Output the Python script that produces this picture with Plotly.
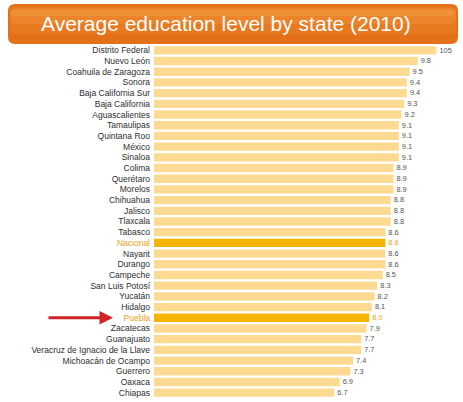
import plotly.graph_objects as go

states = ["Distrito Federal", "Nuevo León", "Coahuila de Zaragoza", "Sonora",
          "Baja California Sur", "Baja California", "Aguascalientes", "Tamaulipas",
          "Quintana Roo", "México", "Sinaloa", "Colima", "Querétaro", "Morelos",
          "Chihuahua", "Jalisco", "Tlaxcala", "Tabasco", "Nacional", "Nayarit",
          "Durango", "Campeche", "San Luis Potosí", "Yucatán", "Hidalgo", "Puebla",
          "Zacatecas", "Guanajuato", "Veracruz de Ignacio de la Llave",
          "Michoacán de Ocampo", "Guerrero", "Oaxaca", "Chiapas"]
values = [10.5, 9.8, 9.5, 9.4, 9.4, 9.3, 9.2, 9.1, 9.1, 9.1, 9.1, 8.9, 8.9, 8.9,
          8.8, 8.8, 8.8, 8.6, 8.6, 8.6, 8.6, 8.5, 8.3, 8.2, 8.1, 8.0, 7.9, 7.7,
          7.7, 7.4, 7.3, 6.9, 6.7]
highlight = ["Nacional", "Puebla"]
title = "Average education level by state (2010)"

W, H = 463, 402
L, R, T, B = 154, 9, 45, 4
pw, ph = W - L - R, H - T - B

def px(x):
    return (x - L) / pw

def py(y):
    return (H - B - y) / ph

base_col = "#FCDA92"
hi_col = "#F5B400"
lab_col = "#2E2E2E"
hi_lab = "#F0A020"

colors = [hi_col if s in highlight else base_col for s in states]
txtcols = [hi_lab if s in highlight else "#555555" for s in states]
texts = ["105" if v == 10.5 else f"{v:.1f}" for v in values]
ticktext = [f'<span style="color:{hi_lab}">{s}</span>' if s in highlight else s for s in states]

fig = go.Figure(go.Bar(
    x=values, y=states, orientation="h",
    marker=dict(color=colors, line=dict(width=0)),
    text=texts, textposition="outside", cliponaxis=False,
    textfont=dict(size=8, color=txtcols, family="Liberation Sans"),
    hoverinfo="skip",
))

def rounded(xa, ya, xb, yb, rad):
    return (f"M {px(xa+rad)},{py(ya)} L {px(xb-rad)},{py(ya)} "
            f"Q {px(xb)},{py(ya)} {px(xb)},{py(ya+rad)} L {px(xb)},{py(yb-rad)} "
            f"Q {px(xb)},{py(yb)} {px(xb-rad)},{py(yb)} L {px(xa+rad)},{py(yb)} "
            f"Q {px(xa)},{py(yb)} {px(xa)},{py(yb-rad)} L {px(xa)},{py(ya+rad)} "
            f"Q {px(xa)},{py(ya)} {px(xa+rad)},{py(ya)} Z")

shapes = [dict(type="path", xref="paper", yref="paper",
               path=rounded(8, 4, 458, 44, 7), fillcolor="#E4701A", line=dict(width=0), layer="below")]
# lighter bands toward the top for a gradient feel
for col, yt, yb in [("#EC8428", 6, 34), ("#F0923A", 8, 24), ("#F4A24C", 10, 16)]:
    shapes.append(dict(type="path", xref="paper", yref="paper",
                       path=rounded(10, yt, 456, yb, 6),
                       fillcolor=col, opacity=0.45, line=dict(width=0), layer="below"))

fig.update_layout(
    width=W, height=H,
    margin=dict(l=L, r=R, t=T, b=B, autoexpand=False),
    paper_bgcolor="white", plot_bgcolor="white",
    bargap=0.22,
    showlegend=False,
    shapes=shapes,
    xaxis=dict(range=[0, pw / 26.9], visible=False, fixedrange=True, automargin=False),
    yaxis=dict(categoryorder="array", categoryarray=states, autorange="reversed",
               tickmode="array", tickvals=states, ticktext=ticktext, automargin=False,
               tickfont=dict(size=8.5, color=lab_col, family="Liberation Sans Narrow, Liberation Sans"),
               showgrid=False, showline=False, ticks="", ticklabelstandoff=3, fixedrange=True),
    annotations=[
        dict(text=title, xref="paper", yref="paper", x=px(226), y=py(24),
             xanchor="center", yanchor="middle", showarrow=False,
             font=dict(size=21, color="white", family="Liberation Sans")),
        dict(text="", xref="paper", yref="y", x=px(113), y="Puebla",
             ax=-66, ay=0, showarrow=True, arrowhead=2, arrowsize=0.9,
             arrowwidth=3, arrowcolor="#D42027"),
    ],
)

fig.write_html("out.html", config={"displayModeBar": False},
               post_script="document.body.style.margin='0';document.body.style.overflow='hidden';")
